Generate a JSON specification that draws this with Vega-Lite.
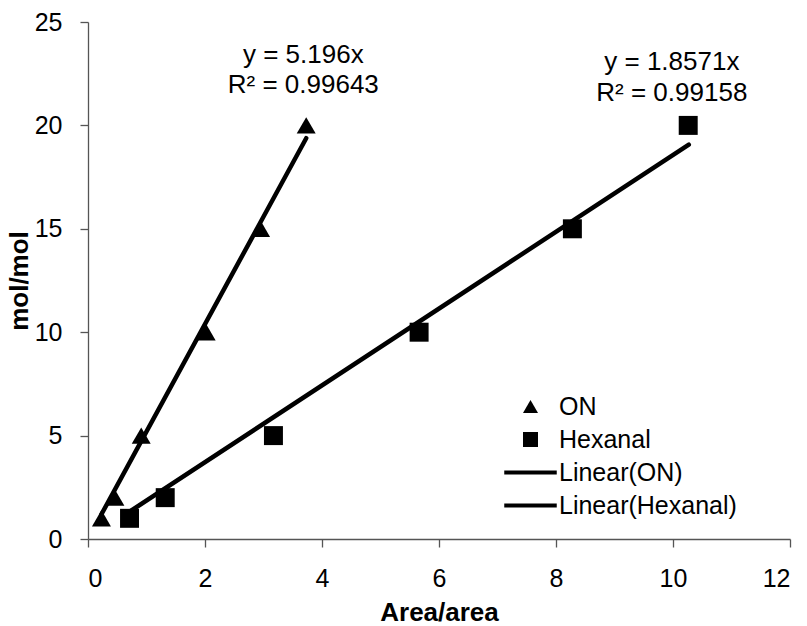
{
  "$schema": "https://vega.github.io/schema/vega-lite/v6.json",
  "width": 702,
  "height": 517,
  "autosize": {"type": "none"},
  "padding": {"left": 88, "top": 22, "right": 17, "bottom": 87},
  "background": "white",
  "config": {
    "view": {"stroke": null},
    "font": "Liberation Sans",
    "axis": {
      "grid": false,
      "domainColor": "#555555",
      "tickColor": "#555555",
      "domainWidth": 1.3,
      "tickWidth": 1.3,
      "tickSize": 8,
      "labelFont": "Liberation Sans",
      "labelFontSize": 25,
      "labelColor": "black",
      "titleFont": "Liberation Sans",
      "titleFontSize": 26,
      "titleFontWeight": "bold",
      "titleColor": "black"
    }
  },
  "layer": [
    {
      "data": {"values": [
        {"series": "ON", "x": 0.23, "y": 1.195},
        {"series": "ON", "x": 3.73, "y": 19.38},
        {"series": "Hexanal", "x": 0.71, "y": 1.319},
        {"series": "Hexanal", "x": 10.27, "y": 19.07}
      ]},
      "mark": {"type": "line", "color": "black", "strokeWidth": 4.5, "strokeCap": "round"},
      "encoding": {
        "x": {"field": "x", "type": "quantitative", "scale": {"domain": [0, 12], "nice": false},
              "axis": {"title": "Area/area", "values": [0, 2, 4, 6, 8, 10, 12], "format": "d", "labelPadding": 19, "titlePadding": 8}},
        "y": {"field": "y", "type": "quantitative", "scale": {"domain": [0, 25], "nice": false},
              "axis": {"title": "mol/mol", "values": [0, 5, 10, 15, 20, 25], "format": "d", "labelPadding": 18, "titlePadding": 2}},
        "detail": {"field": "series"}
      }
    },
    {
      "data": {"values": [
        {"series": "ON", "x": 0.23, "y": 1},
        {"series": "ON", "x": 0.46, "y": 2},
        {"series": "ON", "x": 0.91, "y": 5},
        {"series": "ON", "x": 2.02, "y": 10},
        {"series": "ON", "x": 2.95, "y": 15},
        {"series": "ON", "x": 3.73, "y": 20},
        {"series": "Hexanal", "x": 0.71, "y": 1},
        {"series": "Hexanal", "x": 1.32, "y": 2},
        {"series": "Hexanal", "x": 3.17, "y": 5},
        {"series": "Hexanal", "x": 5.66, "y": 10},
        {"series": "Hexanal", "x": 8.28, "y": 15},
        {"series": "Hexanal", "x": 10.26, "y": 20}
      ]},
      "mark": {"type": "point", "filled": true, "color": "black", "opacity": 1, "size": 360},
      "encoding": {
        "x": {"field": "x", "type": "quantitative"},
        "y": {"field": "y", "type": "quantitative"},
        "shape": {
          "field": "series", "type": "nominal",
          "scale": {
            "domain": ["ON", "Hexanal", "Linear(ON)", "Linear(Hexanal)"],
            "range": ["triangle-up", "square", "M-3.5,-0.27H3.5V0.27H-3.5Z", "M-3.5,-0.27H3.5V0.27H-3.5Z"]
          },
          "legend": {
            "orient": "none",
            "legendX": 430,
            "legendY": 372,
            "title": null,
            "padding": 0,
            "symbolSize": 225,
            "symbolFillColor": "black",
            "symbolStrokeColor": "black",
            "symbolStrokeWidth": 0,
            "symbolOpacity": 1,
            "labelFont": "Liberation Sans",
            "labelFontSize": 25,
            "labelColor": "black",
            "labelOffset": 16,
            "labelLimit": 0,
            "rowPadding": 7
          }
        }
      }
    },
    {
      "data": {"values": [
        {"x": 3.68, "y": 23.04, "label": "y = 5.196x"},
        {"x": 3.68, "y": 21.59, "label": "R² = 0.99643"},
        {"x": 9.98, "y": 22.7, "label": "y = 1.8571x"},
        {"x": 9.98, "y": 21.16, "label": "R² = 0.99158"}
      ]},
      "mark": {"type": "text", "font": "Liberation Sans", "fontSize": 26, "align": "center", "baseline": "alphabetic", "color": "black"},
      "encoding": {
        "x": {"field": "x", "type": "quantitative"},
        "y": {"field": "y", "type": "quantitative"},
        "text": {"field": "label"}
      }
    }
  ]
}
